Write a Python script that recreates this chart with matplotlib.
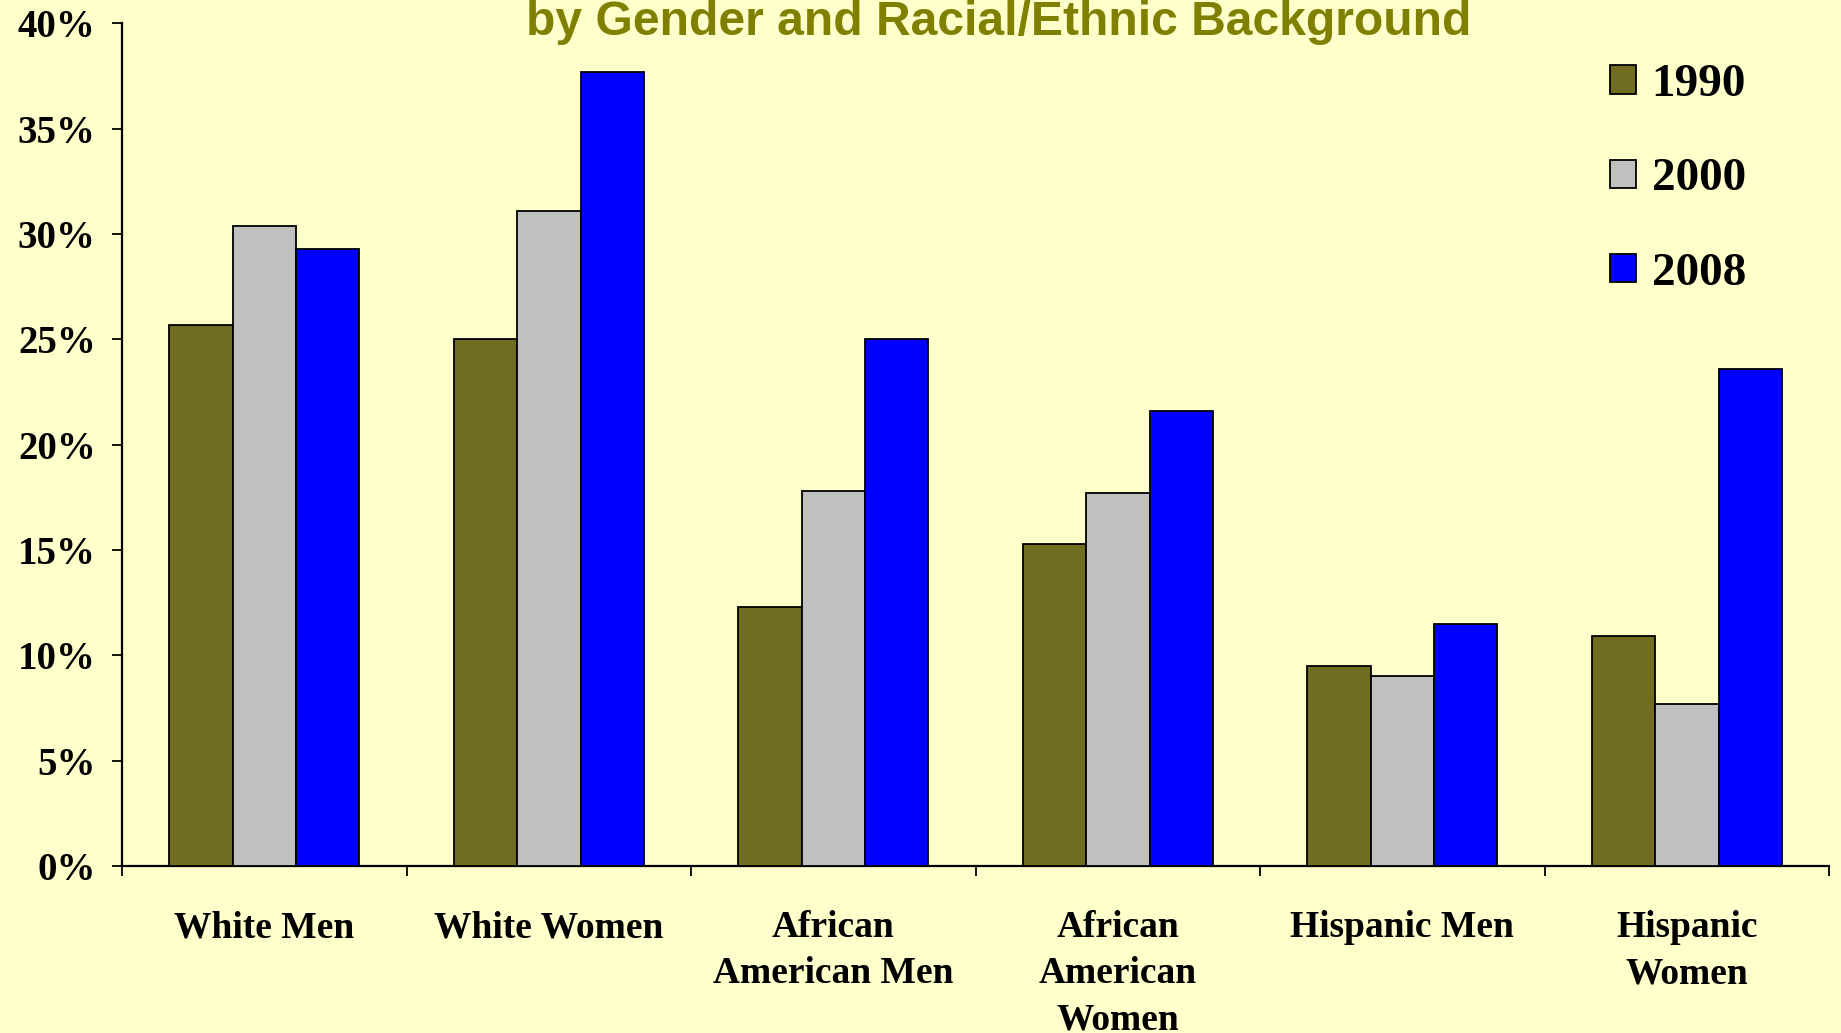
import numpy as np
import matplotlib
matplotlib.use("Agg")
import matplotlib.pyplot as plt
from matplotlib.patches import Patch
from matplotlib.ticker import FixedLocator, PercentFormatter

# --- data -------------------------------------------------------------------
categories = ["White Men", "White Women", "African\nAmerican Men",
              "African\nAmerican\nWomen", "Hispanic Men", "Hispanic\nWomen"]
years = ["1990", "2000", "2008"]
v1990 = [25.7, 25.0, 12.3, 15.3, 9.5, 10.9]
v2000 = [30.4, 31.1, 17.8, 17.7, 9.0, 7.7]
v2008 = [29.3, 37.7, 25.0, 21.6, 11.5, 23.6]
yticks = [0, 5, 10, 15, 20, 25, 30, 35, 40]

BG = "#FFFFCC"
COLORS = ["#716D20", "#C0C0C0", "#0000FF"]
TITLE_C = "#808000"
SERIF = "Liberation Serif"

fig = plt.figure(figsize=(18.41, 10.33), dpi=100, facecolor=BG)
ax = fig.add_axes([0.0663, 0.1617, 0.9272, 0.8156])
ax.set_facecolor(BG)

x = np.arange(len(categories))
w = 0.223
for i, (vals, c) in enumerate(zip([v1990, v2000, v2008], COLORS)):
    ax.bar(x + (i - 1) * w, vals, width=w, color=c, edgecolor="black",
           linewidth=1.3, zorder=3)

ax.set_xlim(-0.5, len(categories) - 0.5)
ax.set_ylim(0, 40)
ax.set_yticks(yticks)
ax.yaxis.set_major_formatter(PercentFormatter(decimals=0))

# ticks at group boundaries, labels at group centres
ax.xaxis.set_major_locator(FixedLocator(np.arange(-0.5, len(categories), 1.0)))
ax.xaxis.set_minor_locator(FixedLocator(x))
ax.set_xticklabels([])
ax.set_xticklabels(categories, minor=True)
ax.tick_params(axis="x", which="major", direction="out", length=7, width=1.3,
               color="black")
ax.tick_params(axis="x", which="minor", length=0, pad=32)
ax.tick_params(axis="y", direction="out", length=7, width=1.3, pad=12)

for lab in ax.get_xticklabels(minor=True):
    lab.set_fontfamily(SERIF)
    lab.set_fontweight("bold")
    lab.set_fontsize(27)
    lab.set_linespacing(1.41)
    lab.set_verticalalignment("top")
for lab in ax.get_yticklabels():
    lab.set_fontfamily(SERIF)
    lab.set_fontweight("bold")
    lab.set_fontsize(28)

for s in ["top", "right"]:
    ax.spines[s].set_visible(False)
for s in ["left", "bottom"]:
    ax.spines[s].set_linewidth(1.6)

fig.text(0.5427, 0.966, "by Gender and Racial/Ethnic Background",
         ha="center", va="baseline", fontsize=34.6, fontweight="bold",
         color=TITLE_C, family="Liberation Sans")

handles = [Patch(facecolor=c, edgecolor="black", linewidth=1.3) for c in COLORS]
leg = fig.legend(handles, years, loc="upper left", bbox_to_anchor=(0.8745, 0.938),
                 frameon=False, borderpad=0, borderaxespad=0,
                 handlelength=0.55, handleheight=0.55, handletextpad=0.33,
                 labelspacing=1.11,
                 prop={"family": SERIF, "weight": "bold", "size": 34})

fig.savefig("out.png", dpi=100, facecolor=BG)
